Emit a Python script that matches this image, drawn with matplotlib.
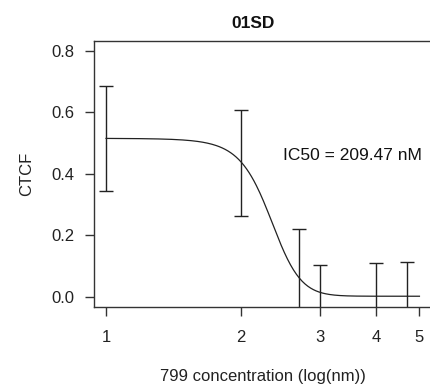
import matplotlib
matplotlib.use("Agg")
import matplotlib.pyplot as plt
import numpy as np

plt.rcParams['font.family'] = ['Liberation Sans', 'DejaVu Sans']

# log10 concentration, mean CTCF and sd
conc_log = [1, 2, 2.699, 3, 4, 4.699]
ctcf_mean = [0.515, 0.435, 0.03, 0.0, 0.0, 0.0]
ctcf_sd = [0.171, 0.172, 0.19, 0.105, 0.109, 0.114]

# fitted 4-parameter logistic
fit_top = 0.515
fit_bottom = 0.002
fit_hill = 2.35
ic50_nm = 209.47

xticks = [1, 2, 3, 4, 5]
yticks = [0.0, 0.2, 0.4, 0.6, 0.8]

fig = plt.figure(figsize=(4.3, 3.88), dpi=100)
ax = fig.add_axes([93.5 / 430, 81.3 / 388, 338.5 / 430, 266 / 388])

xs = np.linspace(1, 5, 300)
ys = fit_bottom + (fit_top - fit_bottom) / (1 + 10 ** ((xs - np.log10(ic50_nm)) * fit_hill))
ax.plot(xs, ys, color='#222222', lw=0.9)

ax.errorbar(conc_log, ctcf_mean, yerr=ctcf_sd, fmt='none', ecolor='#222222',
            elinewidth=1.0, capsize=4.7, capthick=1.0)

ax.set_xscale('log')
ax.set_xlim(10 ** -0.028, 10 ** 0.727)
ax.set_ylim(-0.032, 0.832)
ax.set_xticks(xticks)
ax.set_xticklabels([str(t) for t in xticks])
ax.minorticks_off()
ax.set_yticks(yticks)
ax.set_yticklabels(['%.1f' % t for t in yticks])

for s in ax.spines.values():
    s.set_color('#333333')
    s.set_linewidth(1.0)
ax.tick_params(axis='both', length=6.5, width=1.0, color='#333333',
               labelsize=12, labelcolor='#222222')
ax.tick_params(axis='x', pad=10.5)
ax.tick_params(axis='y', pad=7.5)

ax.text(3.55, 0.46, 'IC50 = %.2f nM' % ic50_nm, ha='center', va='center',
        fontsize=12.5, color='#111111')

ax.set_xlabel('799 concentration (log(nm))', fontsize=12, color='#222222', va='center')
ax.xaxis.set_label_coords(0.502, -0.263)
ax.set_ylabel('CTCF', fontsize=12, color='#222222', va='center')
ax.yaxis.set_label_coords(-0.197, 0.5)

fig.text(253 / 430, 1 - 24 / 388, '01SD', ha='center', va='center',
         fontsize=12.5, fontweight='bold', color='#111111')

fig.savefig('out.png', dpi=100)
